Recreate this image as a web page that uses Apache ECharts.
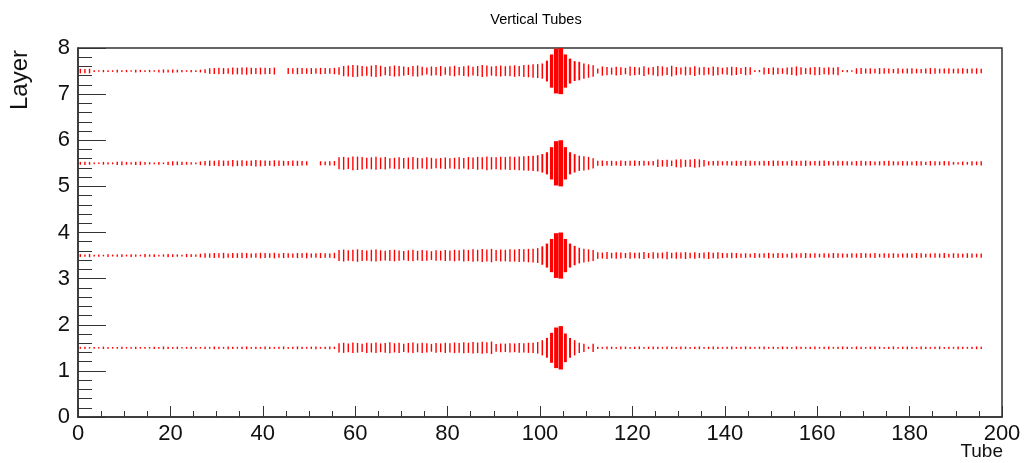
<!DOCTYPE html>
<html>
<head>
<meta charset="utf-8">
<script src="https://cdn.jsdelivr.net/npm/echarts@6/dist/echarts.min.js"></script>
<style>
  html, body { margin: 0; padding: 0; background: #fff; }
  #chart { width: 1025px; height: 463px; }
</style>
</head>
<body>
<div id="chart"></div>
<script>
// box size per tube, in % of the histogram maximum
const layers = [1, 3, 5, 7]
const layer1 = [
  4, 5, 3, 4, 3, 5, 4, 3, 4, 5,
  3, 4, 5, 3, 4, 3, 5, 4, 6, 5,
  4, 5, 3, 4, 5, 4, 3, 5, 4, 6,
  5, 4, 6, 5, 4, 5, 6, 4, 5, 4,
  6, 5, 4, 5, 6, 4, 5, 6, 5, 4,
  5, 6, 4, 5, 6, 5, 20, 22, 19, 23,
  21, 18, 22, 20, 23, 19, 21, 24, 20, 22,
  18, 21, 23, 19, 22, 20, 17, 21, 19, 22,
  20, 23, 21, 24, 22, 25, 23, 26, 24, 27,
  17, 19, 18, 20, 19, 21, 20, 22, 22, 25,
  33, 43, 65, 88, 94, 62, 43, 33, 22, 18,
  5, 18, 5, 4, 6, 5, 4, 6, 5, 4,
  5, 6, 4, 5, 6, 5, 4, 6, 5, 4,
  6, 5, 4, 5, 6, 4, 5, 6, 5, 4,
  5, 6, 4, 5, 6, 5, 4, 5, 6, 4,
  5, 4, 6, 5, 4, 6, 5, 4, 5, 6,
  4, 5, 6, 4, 5, 6, 5, 4, 6, 5,
  4, 5, 6, 5, 4, 5, 6, 4, 5, 6,
  5, 4, 6, 5, 4, 5, 6, 4, 5, 4,
  6, 5, 4, 5, 6, 5
]
const layer3 = [
  6, 5, 7, 4, 5, 3, 6, 4, 5, 6,
  4, 6, 5, 3, 7, 5, 6, 4, 5, 7,
  6, 5, 4, 7, 6, 5, 8, 10, 9, 11,
  10, 12, 9, 11, 10, 12, 11, 9, 10, 12,
  11, 10, 12, 9, 11, 10, 9, 11, 10, 12,
  9, 10, 11, 10, 9, 12, 24, 26, 23, 25,
  27, 24, 22, 25, 26, 23, 21, 24, 25, 22,
  20, 23, 25, 21, 24, 22, 19, 23, 21, 24,
  22, 25, 23, 26, 24, 27, 25, 28, 26, 29,
  24, 26, 25, 27, 26, 28, 27, 29, 30, 32,
  40, 52, 72, 97, 100, 72, 52, 42, 34, 30,
  27, 24, 14, 13, 15, 12, 14, 13, 11, 14,
  12, 13, 15, 11, 14, 12, 13, 16, 12, 14,
  13, 15, 12, 14, 11, 13, 15, 12, 14, 11,
  10, 12, 11, 9, 10, 8, 11, 9, 10, 12,
  9, 11, 10, 8, 12, 9, 10, 11, 9, 10,
  8, 10, 9, 11, 10, 9, 8, 10, 9, 11,
  10, 9, 11, 8, 10, 9, 10, 8, 9, 10,
  9, 11, 10, 8, 9, 10, 9, 11, 8, 10,
  9, 8, 10, 9, 8, 9
]
const layer5 = [
  6, 7, 6, 4, 3, 6, 5, 4, 7, 8,
  6, 5, 7, 8, 6, 5, 4, 6, 3, 7,
  9, 8, 7, 6, 5, 4, 8, 10, 12, 11,
  13, 12, 11, 14, 12, 13, 11, 12, 14, 13,
  12, 11, 13, 12, 11, 10, 12, 11, 10, 9,
  0, 0, 9, 8, 9, 10, 26, 28, 25, 30,
  29, 27, 24, 26, 28, 25, 27, 22, 24, 26,
  23, 25, 27, 24, 22, 26, 24, 21, 23, 25,
  22, 24, 26, 23, 27, 25, 28, 26, 30, 27,
  26, 28, 27, 29, 28, 30, 31, 32, 33, 35,
  40, 48, 70, 96, 100, 70, 48, 40, 33, 31,
  28, 22, 11, 12, 10, 11, 9, 12, 10, 11,
  12, 10, 11, 9, 10, 16, 14, 15, 12, 17,
  18, 15, 16, 19, 17, 14, 9, 10, 11, 9,
  10, 9, 11, 10, 12, 11, 10, 9, 11, 10,
  12, 11, 10, 9, 12, 10, 11, 12, 9, 10,
  11, 12, 10, 9, 11, 10, 9, 8, 10, 11,
  9, 10, 8, 9, 10, 11, 9, 8, 10, 9,
  8, 10, 9, 7, 10, 9, 8, 10, 9, 6,
  5, 8, 6, 9, 8, 9
]
const layer7 = [
  10, 9, 10, 4, 3, 5, 4, 3, 6, 4,
  5, 3, 6, 5, 4, 5, 3, 6, 7, 6,
  7, 6, 5, 3, 5, 4, 6, 8, 12, 13,
  14, 13, 12, 15, 14, 15, 16, 14, 13, 15,
  14, 13, 15, 0, 0, 13, 12, 14, 13, 12,
  13, 12, 14, 13, 12, 14, 16, 22, 24, 26,
  25, 22, 20, 24, 26, 23, 18, 21, 24, 22,
  20, 17, 22, 24, 19, 15, 20, 18, 22, 16,
  20, 23, 18, 21, 24, 19, 22, 26, 24, 20,
  22, 24, 21, 23, 25, 22, 26, 27, 29, 30,
  33, 45, 72, 97, 100, 72, 54, 43, 40, 33,
  29, 25, 11, 20, 18, 15, 19, 17, 14, 20,
  18, 16, 21, 15, 18, 22, 20, 17, 23, 18,
  15, 19, 17, 21, 16, 18, 15, 20, 18, 14,
  16, 19, 17, 13, 18, 16, 4, 5, 15, 13,
  16, 14, 12, 15, 17, 20, 16, 13, 15, 18,
  17, 14, 16, 15, 18, 4, 5, 3, 12, 13,
  11, 12, 10, 13, 12, 11, 9, 12, 10, 11,
  12, 10, 9, 11, 13, 12, 10, 11, 12, 10,
  11, 12, 10, 11, 12, 10
]
const xTicks = [0, 20, 40, 60, 80, 100, 120, 140, 160, 180, 200]
const yTicks = [0, 1, 2, 3, 4, 5, 6, 7, 8]

const rows = [layer1, layer3, layer5, layer7]
const boxes = []
rows.forEach((arr, k) => {
  arr.forEach((v, i) => {
    if (v > 0) boxes.push([i, layers[k], v])
  })
})

const font = 'Liberation Sans, Arial, Helvetica, sans-serif'
const chart = echarts.init(document.getElementById('chart'))
chart.setOption({
  animation: false,
  backgroundColor: '#fff',
  title: {
    text: 'Vertical Tubes',
    left: 531,
    top: 7,
    textAlign: 'center',
    textStyle: { fontFamily: font, fontSize: 14.5, fontWeight: 'normal', color: '#000' },
  },
  grid: {
    left: 78, right: 23, top: 48, bottom: 46,
    show: true, borderColor: '#333', borderWidth: 1.5, backgroundColor: 'transparent',
  },
  xAxis: {
    type: 'value',
    min: xTicks[0], max: xTicks[xTicks.length - 1], interval: 20,
    axisLine: { lineStyle: { color: '#333', width: 1.5 } },
    axisTick: { inside: true, length: 11, lineStyle: { color: '#333' } },
    minorTick: { show: true, splitNumber: 4, length: 6, lineStyle: { color: '#333' } },
    splitLine: { show: false },
    axisLabel: { fontFamily: font, fontSize: 22, color: '#111', margin: 6 },
  },
  yAxis: {
    type: 'value',
    min: yTicks[0], max: yTicks[yTicks.length - 1], interval: 1,
    axisLine: { show: true, lineStyle: { color: '#333', width: 1.5 } },
    axisTick: { show: true, inside: true, length: 28, lineStyle: { color: '#333' } },
    minorTick: { show: true, splitNumber: 5, length: 14, lineStyle: { color: '#333' } },
    splitLine: { show: false },
    axisLabel: { fontFamily: font, fontSize: 22, color: '#111', margin: 8 },
  },
  graphic: [
    {
      type: 'text', right: 22, top: 442,
      style: { text: 'Tube', font: '19px ' + font, fill: '#111' },
    },
    {
      type: 'text', left: 8, top: 50, rotation: Math.PI / 2,
      style: { text: 'Layer', font: '24px ' + font, fill: '#111' },
    },
  ],
  series: [{
    type: 'custom',
    clip: false,
    data: boxes,
    renderItem: (params, api) => {
      const c = api.coord([api.value(0) + 0.5, api.value(1) + 0.5])
      const s = api.size([1, 1])
      const f = api.value(2) / 100
      const w = Math.max(1.4, s[0] * f)
      const h = Math.max(1.6, s[1] * f)
      return {
        type: 'rect',
        shape: { x: c[0] - w / 2, y: c[1] - h / 2, width: w, height: h },
        style: { fill: '#ff0000' },
      }
    },
  }],
})
</script>
</body>
</html>
